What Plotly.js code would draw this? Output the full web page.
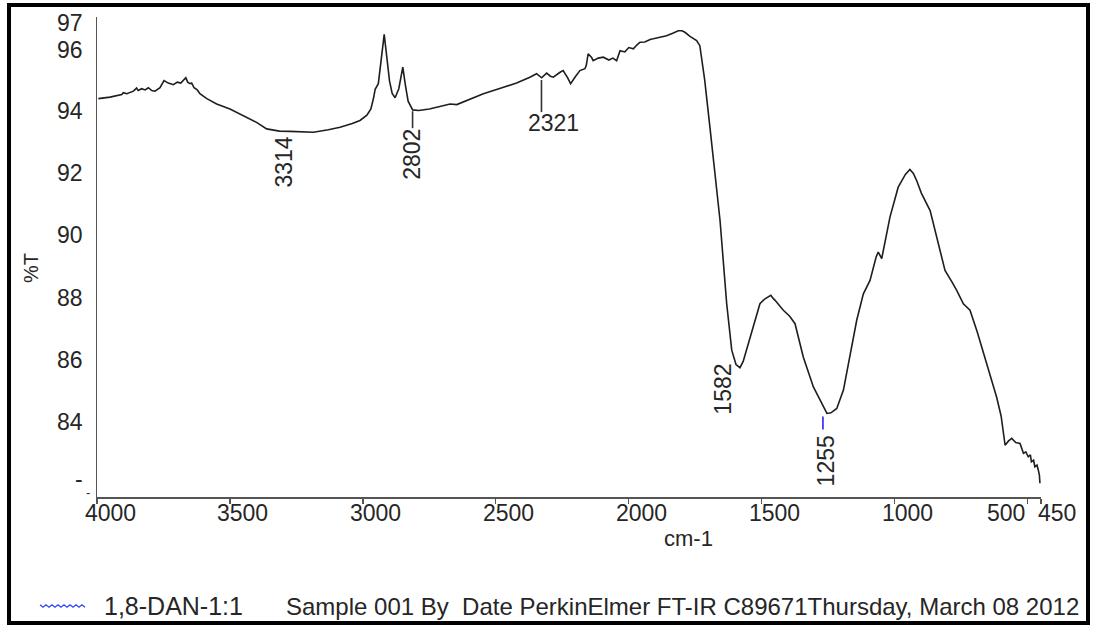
<!DOCTYPE html>
<html>
<head>
<meta charset="utf-8">
<script src="https://cdn.plot.ly/plotly-3.0.1.min.js"></script>
<style>
  html, body { margin: 0; padding: 0; background: #fff; }
  #wrap { position: relative; width: 1096px; height: 627px; }
  #chart { width: 1096px; height: 627px; }
  #frame {
    position: absolute; left: 7px; top: 3px; width: 1083px; height: 622px;
    box-sizing: border-box; border: 4px solid #000; pointer-events: none;
  }
</style>
</head>
<body>
<div id="wrap">
  <div id="chart"></div>
  <div id="frame"></div>
</div>
<script>
// FT-IR spectrum of 1,8-DAN-1:1 (wavenumber in cm-1, transmittance in %T)
const wavenumber = [
  3995, 3951, 3907, 3901, 3888, 3863, 3851, 3845, 3832, 3819, 3807, 3794, 3782, 3763, 3748, 3732,
  3713, 3698, 3685, 3675, 3666, 3659, 3650, 3644, 3635, 3623, 3613, 3587, 3563, 3550, 3500, 3462,
  3400, 3362, 3314, 3274, 3230, 3186, 3130, 3086, 3040, 3011, 2985, 2970, 2960, 2954, 2942, 2932,
  2920, 2910, 2900, 2890, 2879, 2865, 2850, 2840, 2830, 2813, 2790, 2750, 2700, 2672, 2647, 2600,
  2547, 2480, 2422, 2372, 2347, 2328, 2309, 2295, 2284, 2260, 2247, 2230, 2219, 2200, 2184, 2165,
  2160, 2153, 2140, 2134, 2115, 2096, 2075, 2060, 2046, 2033, 2015, 2000, 1983, 1970, 1958, 1940,
  1920, 1908, 1880, 1858, 1835, 1814, 1800, 1789, 1770, 1757, 1745, 1733, 1715, 1695, 1675, 1657,
  1632, 1613, 1597, 1582, 1570, 1544, 1507, 1488, 1476, 1466, 1458, 1450, 1419, 1395, 1375, 1344,
  1306, 1269, 1255, 1240, 1218, 1193, 1170, 1143, 1118, 1093, 1070, 1062, 1049, 1035, 1018, 987,
  960, 943, 930, 918, 900, 867, 840, 811, 785, 767, 742, 725, 717, 690, 654, 617,
  600, 585, 572, 560, 545, 529, 516, 507, 498, 490, 486, 478, 473, 465, 460, 456,
  454
];
const transmittance = [
  94.38, 94.43, 94.51, 94.57, 94.54, 94.62, 94.72, 94.64, 94.70, 94.66, 94.73, 94.64, 94.62, 94.73, 94.96, 94.88,
  94.83, 94.91, 94.88, 94.97, 95.05, 94.91, 94.86, 94.88, 94.73, 94.66, 94.54, 94.38, 94.27, 94.21, 94.05, 93.89,
  93.62, 93.41, 93.34, 93.33, 93.31, 93.30, 93.38, 93.46, 93.58, 93.68, 93.85, 94.05, 94.40, 94.68, 94.86, 95.60,
  96.44, 95.70, 94.95, 94.55, 94.41, 94.70, 95.39, 94.80, 94.30, 94.02, 94.00, 94.05, 94.15, 94.21, 94.19, 94.35,
  94.54, 94.72, 94.88, 95.07, 95.18, 95.05, 95.20, 95.10, 95.07, 95.22, 95.28, 95.05, 94.86, 95.10, 95.28, 95.34,
  95.45, 95.82, 95.70, 95.60, 95.68, 95.71, 95.62, 95.68, 95.60, 95.92, 95.88, 96.02, 95.98, 96.10, 96.19, 96.20,
  96.28, 96.30, 96.36, 96.40, 96.48, 96.56, 96.56, 96.51, 96.38, 96.30, 96.24, 96.08, 95.00, 93.46, 91.90, 90.47,
  87.80, 86.31, 85.85, 85.75, 85.95, 86.73, 87.80, 87.96, 88.02, 88.07, 87.98, 87.91, 87.59, 87.40, 87.16, 86.09,
  85.13, 84.49, 84.28, 84.30, 84.44, 85.03, 86.10, 87.27, 88.12, 88.55, 89.30, 89.46, 89.25, 89.90, 90.58, 91.54,
  91.95, 92.11, 91.98, 91.76, 91.35, 90.79, 89.90, 88.87, 88.50, 88.23, 87.80, 87.65, 87.59, 86.90, 85.88, 84.81,
  84.20, 83.26, 83.40, 83.48, 83.35, 83.32, 83.00, 83.05, 82.89, 82.95, 82.73, 82.78, 82.57, 82.62, 82.46, 82.30,
  82.04
];

// Labelled peak positions
const peaks = [3314, 2802, 2321, 1582, 1255];

// Axis tick values and their printed labels
const xTickVals = [4000, 3500, 3000, 2500, 2000, 1500, 1000, 500, 450];
const xTickText = ['4000', '3500', '3000', '2500', '2000', '1500', '1000', '500', '450'];
const yTickVals = [97, 96, 94, 92, 90, 88, 86, 84, 82];
const yTickText = ['97', '96', '94', '92', '90', '88', '86', '84', '-'];

const legendName = '1,8-DAN-1:1';
const sampleInfo = 'Sample 001 By  Date PerkinElmer FT-IR C89671Thursday, March 08 2012';

const X_RANGE = [4000, 450];
const Y_RANGE = [81.6, 97.0];

// plot-area geometry (pixels)
const W = 1096, H = 627;
const M = { l: 97, r: 55, t: 17, b: 130 };
const plotW = W - M.l - M.r, plotH = H - M.t - M.b;
const pxToPaperX = px => (px - M.l) / plotW;
const pyToPaperY = py => (H - M.b - py) / plotH;

// linear lookup of %T at a given wavenumber
function valueAt(w) {
  for (let i = 0; i < wavenumber.length - 1; i++) {
    const a = wavenumber[i], b = wavenumber[i + 1];
    if (w <= a && w >= b) {
      const t = (a - b) === 0 ? 0 : (a - w) / (a - b);
      return transmittance[i] + t * (transmittance[i + 1] - transmittance[i]);
    }
  }
  return transmittance[transmittance.length - 1];
}

const FONT = 'Arial, "Liberation Sans", sans-serif';
const TXT = '#262626';
const AXIS = '#555555';

const annotations = [];
const shapes = [];

// x tick labels (printed slightly right of each tick; 500 pushed left to clear 450)
const xLabelShift = { 500: -22, 450: 16 };
xTickVals.forEach((v, i) => {
  annotations.push({
    x: v, xref: 'x', y: 0, yref: 'paper', text: xTickText[i], showarrow: false,
    xanchor: 'center', yanchor: 'middle', xshift: (v in xLabelShift) ? xLabelShift[v] : 13, yshift: -16,
    font: { family: FONT, size: 23, color: TXT }
  });
});

// y tick labels
const yLabelShift = { 97: -6, 96: -2, 82: 6 };
yTickVals.forEach((v, i) => {
  annotations.push({
    x: 0, xref: 'paper', y: v, yref: 'y', text: yTickText[i], showarrow: false,
    xanchor: 'right', yanchor: 'middle', xshift: -12, yshift: (v in yLabelShift) ? yLabelShift[v] : 0,
    font: { family: FONT, size: 23, color: TXT }
  });
});
// dash at the axis origin
annotations.push({
  x: 0, xref: 'paper', y: Y_RANGE[0], yref: 'y', text: '-', showarrow: false,
  xanchor: 'right', yanchor: 'middle', xshift: -5, yshift: 5,
  font: { family: FONT, size: 13, color: TXT }
});

// axis titles
annotations.push({
  x: pxToPaperX(31), xref: 'paper', y: pyToPaperY(268), yref: 'paper', text: '%T', textangle: -90,
  showarrow: false, xanchor: 'center', yanchor: 'middle', font: { family: FONT, size: 20, color: TXT }
});
annotations.push({
  x: pxToPaperX(688), xref: 'paper', y: pyToPaperY(538), yref: 'paper', text: 'cm-1',
  showarrow: false, xanchor: 'center', yanchor: 'middle', font: { family: FONT, size: 22, color: TXT }
});

// peak labels: text offsets and angle, optional marker line [top, bottom, colour, dx]
const peakStyle = {
  3314: { dx: 5,  dy: -31, angle: -90 },
  2802: { dx: -3, dy: -44, angle: -90, line: [-1, -18, '#333333', -3] },
  2321: { dx: 10, dy: -47, angle: 0,   line: [-4, -36, '#333333', -2] },
  1582: { dx: -17, dy: -21, angle: -90 },
  1255: { dx: 0,  dy: -47, angle: -90, line: [-3, -16, '#2222ff', -4] }
};
peaks.forEach(p => {
  const s = peakStyle[p];
  const yv = valueAt(p);
  annotations.push({
    x: p, xref: 'x', y: yv, yref: 'y', text: String(p), textangle: s.angle, showarrow: false,
    xanchor: 'center', yanchor: 'middle', xshift: s.dx, yshift: s.dy,
    font: { family: FONT, size: 23, color: TXT }
  });
  if (s.line) {
    shapes.push({
      type: 'line', xref: 'x', yref: 'y',
      xsizemode: 'pixel', xanchor: p, x0: s.line[3], x1: s.line[3],
      ysizemode: 'pixel', yanchor: yv, y0: s.line[0], y1: s.line[1],
      line: { color: s.line[2], width: 1.6 }
    });
  }
});

// legend: wavy blue sample line, series name and instrument text
(function () {
  let path = '';
  const y0 = 606, amp = 1.2;
  for (let px = 40, k = 0; px <= 86; px += 3, k++) {
    const py = y0 + (k % 2 === 0 ? -amp : amp);
    path += (k === 0 ? 'M ' : ' L ') + pxToPaperX(px).toFixed(5) + ',' + pyToPaperY(py).toFixed(5);
  }
  shapes.push({ type: 'path', xref: 'paper', yref: 'paper', path: path, line: { color: '#3344ff', width: 1.3 } });
})();
annotations.push({
  x: pxToPaperX(102), xref: 'paper', y: pyToPaperY(606), yref: 'paper', text: legendName,
  showarrow: false, xanchor: 'left', yanchor: 'middle', font: { family: FONT, size: 25, color: TXT }
});
annotations.push({
  x: pxToPaperX(284), xref: 'paper', y: pyToPaperY(606), yref: 'paper', text: sampleInfo,
  showarrow: false, xanchor: 'left', yanchor: 'middle', font: { family: FONT, size: 24, color: TXT }
});

const trace = {
  x: wavenumber, y: transmittance, type: 'scatter', mode: 'lines',
  line: { color: '#1e1e1e', width: 1.6 }, hoverinfo: 'skip', showlegend: false
};

const layout = {
  width: W, height: H,
  margin: M,
  paper_bgcolor: '#ffffff', plot_bgcolor: '#ffffff',
  showlegend: false,
  xaxis: {
    range: X_RANGE, showgrid: false, zeroline: false, showline: true, linecolor: AXIS, linewidth: 1.5,
    ticks: 'outside', ticklen: 5, tickwidth: 1.2, tickcolor: AXIS,
    tickmode: 'array', tickvals: xTickVals, showticklabels: false
  },
  yaxis: {
    range: Y_RANGE, showgrid: false, zeroline: false, showline: true, linecolor: AXIS, linewidth: 1.5,
    ticks: '', showticklabels: false
  },
  annotations: annotations,
  shapes: shapes
};

Plotly.newPlot('chart', [trace], layout, { displayModeBar: false, staticPlot: true });
</script>
</body>
</html>
